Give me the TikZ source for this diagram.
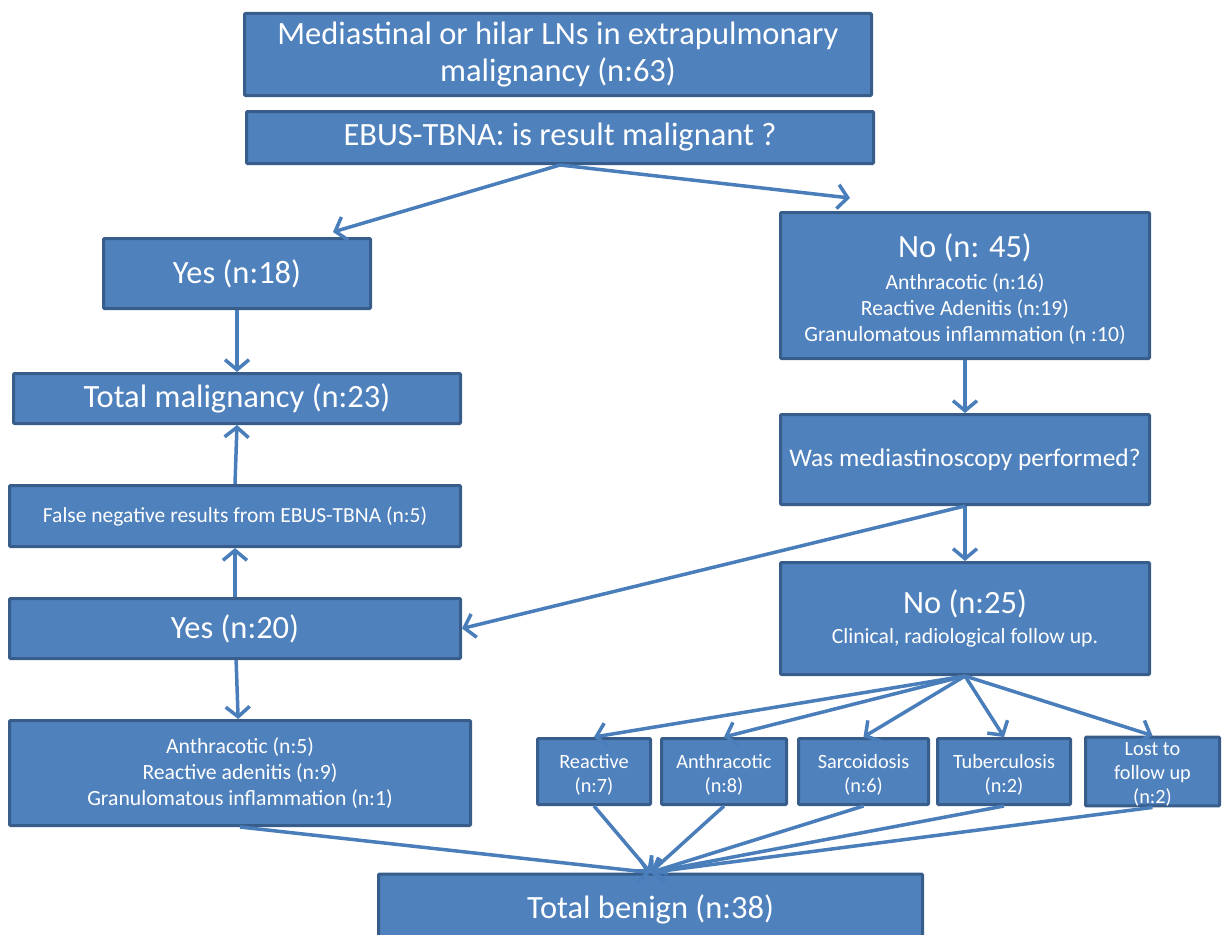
\documentclass[tikz,border=0pt]{standalone}
\usepackage{fontspec}
\setmainfont{Carlito}
\usepackage{tikz}
\usetikzlibrary{arrows.meta,positioning}

\definecolor{boxfill}{HTML}{4F81BD}
\definecolor{boxline}{HTML}{385D8A}
\definecolor{arrowcol}{HTML}{4A7EBB}

\begin{document}
\begin{tikzpicture}[x=1pt,y=-1pt,
  box/.style={draw=boxline,fill=boxfill,line width=3pt,text=white,align=center,inner sep=0pt,rounded corners=1pt},
  big/.style={font=\fontsize{32.5}{37}\selectfont},
  mid/.style={font=\fontsize{21.7}{26}\selectfont},
  small/.style={font=\fontsize{20.3}{24}\selectfont},
  link/.style={draw=arrowcol,line width=3.5pt,-{Straight Barb[length=10pt,width=24pt]}}]
\useasboundingbox (0,0) rectangle (1223,934);

% left column and top
\node[box,big,minimum width=627,minimum height=82] (start) at (558,54.5) {Mediastinal or hilar LNs in extrapulmonary\\ malignancy (n:63)};
\node[box,big,minimum width=627,minimum height=52] (ebus) at (560,137.5) {EBUS-TBNA: is result malignant ?};
\node[box,big,minimum width=267,minimum height=70] (yesA) at (237,273.5) {Yes (n:18)};
\node[box,big,minimum width=447,minimum height=50] (totmal) at (237,398.5) {Total malignancy (n:23)};
\node[box,font=\fontsize{21.5}{26}\selectfont,minimum width=451,minimum height=61] (falseneg) at (235,516) {False negative results from EBUS-TBNA (n:5)};
\node[box,big,minimum width=451,minimum height=60] (yesB) at (235,628.5) {Yes (n:20)};
\node[box,mid,minimum width=461,minimum height=105] (benA) at (240,773) {Anthracotic (n:5)\\ Reactive adenitis (n:9)\\ Granulomatous inflammation (n:1)};

% right column
\node[box,mid,minimum width=369,minimum height=146] (noA) at (965,285.5) {{\fontsize{32.5}{32}\selectfont\rule{0pt}{32pt}No (n: 45)}\\[6pt] Anthracotic (n:16)\\ Reactive Adenitis (n:19)\\ Granulomatous inflammation (n :10)};
\node[box,font=\fontsize{25.4}{30}\selectfont,minimum width=369,minimum height=90] (medq) at (965,459.5) {Was mediastinoscopy performed?};
\node[box,mid,minimum width=369,minimum height=112] (noB) at (965,618.5) {{\fontsize{32.5}{32}\selectfont No (n:25)}\\[4pt] Clinical, radiological follow up.};

% outcome boxes
\node[box,small,minimum width=113,minimum height=66] (reac) at (594,771.5) {\rule{0pt}{21pt}Reactive\\ (n:7)};
\node[box,small,minimum width=125,minimum height=66] (anth) at (724,771.5) {\rule{0pt}{21pt}Anthracotic\\ (n:8)};
\node[box,small,minimum width=130,minimum height=66] (sarc) at (863.5,771.5) {\rule{0pt}{21pt}Sarcoidosis\\ (n:6)};
\node[box,small,minimum width=133,minimum height=66] (tub) at (1004,771.5) {\rule{0pt}{21pt}Tuberculosis\\ (n:2)};
\node[box,small,minimum width=134,minimum height=66] (lost) at (1152.5,771.5) {\rule{0pt}{18pt}Lost to\\ follow up\\ (n:2)};
\node[box,big,minimum width=544,minimum height=70] (benign) at (650.5,909) {Total benign (n:38)};

% arrows
\coordinate (tipL) at (333,232);
\coordinate (tipR) at (850,198);
\draw[link] (ebus.south) -- (tipL);
\draw[link] (ebus.south) -- (tipR);
\draw[link] (yesA) -- (totmal);
\draw[link] (falseneg.north) -- (totmal.south);
\draw[link] (yesB) -- (falseneg);
\draw[link] (yesB) -- (benA);
\draw[link] (noA) -- (medq);
\draw[link] (medq.south) -- (noB);
\draw[link] (medq.south) -- (yesB.east);
\foreach \n in {reac,anth,sarc,tub,lost}
  \draw[link] (noB.south) -- (\n.north);
\foreach \n in {benA,reac,anth,sarc,tub,lost}
  \draw[link] (\n.south) -- (benign.north);
\end{tikzpicture}
\end{document}
